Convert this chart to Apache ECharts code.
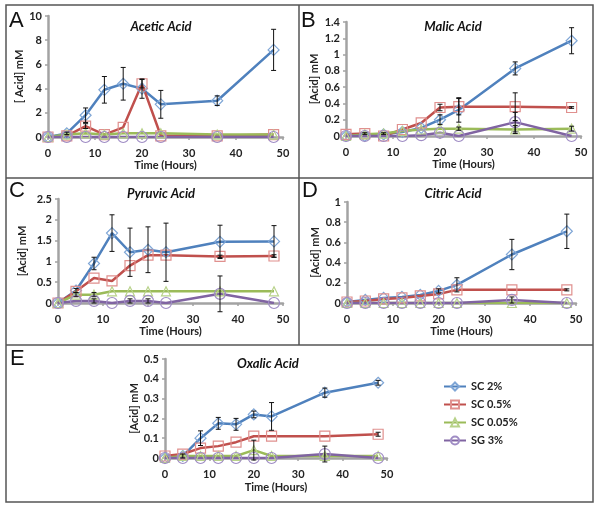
<!DOCTYPE html>
<html>
<head>
<meta charset="utf-8">
<script src="https://cdn.jsdelivr.net/npm/echarts@6/dist/echarts.min.js"></script>
<style>
  html, body { margin: 0; padding: 0; background: #fff; }
  #chart { width: 600px; height: 507px; }
</style>
</head>
<body>
<div id="chart"></div>
<script>
const hours = [0, 4, 8, 12, 16, 20, 24, 36, 48];
const seriesNames = ["SC 2%", "SC 0.5%", "SC 0.05%", "SG 3%"];

// A - acetic
const aceticSc2 = [0, 0.3, 1.8, 3.9, 4.4, 4.0, 2.7, 3.0, 7.2];
const aceticSc2Err = [0, 0.1, 0.6, 1.1, 1.35, 0.8, 1.15, 0.4, 1.7];
const aceticSc05 = [0, 0.1, 0.9, 0.2, 0.8, 4.4, 0.1, 0.1, 0.2];
const aceticSc05Err = [0, 0, 0.2, 0, 0, 0.35, 0, 0, 0];
const aceticSc005 = [0, 0.2, 0.3, 0.2, 0.3, 0.3, 0.3, 0.2, 0.2];
const aceticSc005Err = [0, 0, 0, 0, 0, 0, 0, 0, 0];
const aceticSg3 = [0, 0, 0, 0, 0, 0, 0, 0, 0];
const aceticSg3Err = [0, 0, 0, 0, 0, 0, 0, 0, 0];

// B - malic
const malicSc2 = [0, 0, 0.02, 0.05, 0.1, 0.2, 0.32, 0.83, 1.17];
const malicSc2Err = [0, 0, 0, 0, 0, 0.06, 0.15, 0.08, 0.16];
const malicSc05 = [0.02, 0.03, 0, 0.08, 0.16, 0.35, 0.36, 0.36, 0.35];
const malicSc05Err = [0, 0.01, 0, 0, 0, 0.04, 0.1, 0.17, 0.01];
const malicSc005 = [0, 0.02, 0.03, 0.06, 0.08, 0.09, 0.09, 0.08, 0.09];
const malicSc005Err = [0, 0, 0.01, 0, 0, 0, 0.02, 0.05, 0.03];
const malicSg3 = [0, 0, 0, 0, 0.01, 0.04, 0, 0.17, 0];
const malicSg3Err = [0, 0, 0, 0, 0, 0, 0, 0.12, 0];

// C - pyruvic
const pyruvicSc2 = [0, 0.3, 0.95, 1.68, 1.22, 1.28, 1.22, 1.47, 1.48];
const pyruvicSc2Err = [0, 0.05, 0.15, 0.44, 0.58, 0.55, 0.7, 0.4, 0.38];
const pyruvicSc05 = [0, 0.28, 0.6, 0.53, 0.9, 1.15, 1.15, 1.12, 1.13];
const pyruvicSc05Err = [0, 0, 0, 0, 0, 0, 0, 0.03, 0.03];
const pyruvicSc005 = [0, 0.2, 0.2, 0.28, 0.28, 0.28, 0.28, 0.28, 0.28];
const pyruvicSc005Err = [0, 0.05, 0.05, 0, 0, 0, 0, 0, 0];
const pyruvicSg3 = [0, 0.05, 0.05, 0, 0.05, 0.05, 0, 0.22, 0];
const pyruvicSg3Err = [0, 0, 0.05, 0, 0.05, 0.05, 0, 0.43, 0];

// D - citric
const citricSc2 = [0.01, 0.03, 0.05, 0.06, 0.08, 0.12, 0.18, 0.48, 0.71];
const citricSc2Err = [0, 0, 0, 0, 0, 0.02, 0.07, 0.15, 0.17];
const citricSc05 = [0.01, 0.02, 0.04, 0.05, 0.07, 0.09, 0.13, 0.13, 0.13];
const citricSc05Err = [0, 0, 0, 0, 0, 0, 0, 0, 0.01];
const citricSc005 = [0, 0, 0, 0, 0, 0, 0, 0, 0];
const citricSc005Err = [0, 0, 0, 0, 0, 0, 0, 0, 0];
const citricSg3 = [0, 0, 0, 0, 0, 0, 0, 0.03, 0];
const citricSg3Err = [0, 0, 0, 0, 0, 0, 0, 0.03, 0];

// E - oxalic
const oxalicSc2 = [0, 0.01, 0.1, 0.175, 0.17, 0.22, 0.21, 0.33, 0.38];
const oxalicSc2Err = [0, 0.01, 0.037, 0.03, 0.03, 0.017, 0.07, 0.023, 0.012];
const oxalicSc05 = [0.01, 0.02, 0.05, 0.06, 0.08, 0.11, 0.11, 0.11, 0.12];
const oxalicSc05Err = [0, 0, 0, 0, 0, 0, 0, 0, 0.01];
const oxalicSc005 = [0, 0.01, 0.01, 0.01, 0.01, 0.04, 0.01, 0.01, 0.01];
const oxalicSc005Err = [0, 0, 0, 0, 0, 0.05, 0, 0, 0];
const oxalicSg3 = [0, 0, 0, 0, 0, 0, 0, 0.02, 0];
const oxalicSg3Err = [0, 0, 0, 0, 0, 0, 0, 0.04, 0];

const yMaxes = [10, 1.4, 2.5, 1, 0.5];
const yIntervals = [2, 0.2, 0.5, 0.2, 0.1];

const panels = [
  { title: "Acetic Acid", yName: "[ Acid] mM", vals: [aceticSc2, aceticSc05, aceticSc005, aceticSg3], errs: [aceticSc2Err, aceticSc05Err, aceticSc005Err, aceticSg3Err] },
  { title: "Malic Acid", yName: "[Acid] mM", vals: [malicSc2, malicSc05, malicSc005, malicSg3], errs: [malicSc2Err, malicSc05Err, malicSc005Err, malicSg3Err] },
  { title: "Pyruvic Acid", yName: "[Acid] mM", vals: [pyruvicSc2, pyruvicSc05, pyruvicSc005, pyruvicSg3], errs: [pyruvicSc2Err, pyruvicSc05Err, pyruvicSc005Err, pyruvicSg3Err] },
  { title: "Citric Acid", yName: "[Acid] mM", vals: [citricSc2, citricSc05, citricSc005, citricSg3], errs: [citricSc2Err, citricSc05Err, citricSc005Err, citricSg3Err] },
  { title: "Oxalic Acid", yName: "[Acid] mM", vals: [oxalicSc2, oxalicSc05, oxalicSc005, oxalicSg3], errs: [oxalicSc2Err, oxalicSc05Err, oxalicSc005Err, oxalicSg3Err] },
];

// layout (px)
const grids = [
  { left: 48, top: 16, width: 235, height: 121 },
  { left: 346, top: 22, width: 235, height: 114 },
  { left: 58, top: 199, width: 225, height: 104 },
  { left: 347, top: 202, width: 229, height: 101 },
  { left: 165, top: 359, width: 222, height: 99 },
];
const titlePos = [[156, 15], [448, 15], [156, 182], [448, 182], [263, 352]];
const xNameGap = [23, 23, 23, 19, 24];
const yNameGap = [12, 26, 30, 26, 20];

const lineColors = ["#4f81bd", "#c0504d", "#9bbb59", "#8064a2"];
const markColors = ["#7fa6d6", "#e0908e", "#b8d28a", "#9f8cc4"];
const symbols = ["diamond", "rect", "triangle", "circle"];
const symbolSizes = [11, 10, 9, 11];

const font = "Lato, 'Open Sans', sans-serif";
const axisGray = "#a3a3a3";

const chart = echarts.init(document.getElementById("chart"));

let xAxis = [], yAxis = [], series = [], title = [];
panels.forEach((p, i) => {
  xAxis.push({
    gridIndex: i, type: "value", min: 0, max: 50, interval: 10,
    name: "Time (Hours)", nameLocation: "middle", nameGap: xNameGap[i],
    nameTextStyle: { fontFamily: font, fontWeight: "bold", fontSize: 11, color: "#222" },
    axisLine: { lineStyle: { color: axisGray, width: 2.5 } },
    axisTick: { show: true, length: 3, lineStyle: { color: axisGray, width: 1.5 } },
    axisLabel: { margin: 11, fontFamily: font, fontWeight: "bold", fontSize: 11, color: "#222" },
    splitLine: { show: false },
  });
  yAxis.push({
    gridIndex: i, type: "value", min: 0, max: yMaxes[i], interval: yIntervals[i],
    name: p.yName, nameLocation: "middle", nameGap: yNameGap[i], nameRotate: 90,
    nameTextStyle: { fontFamily: font, fontWeight: "bold", fontSize: 11, color: "#222" },
    axisLine: { show: true, lineStyle: { color: axisGray, width: 2.5 } },
    axisTick: { show: true, length: 3, lineStyle: { color: axisGray, width: 1.5 } },
    axisLabel: { margin: 6, fontFamily: font, fontWeight: "bold", fontSize: 11, color: "#222" },
    splitLine: { show: false },
  });
  title.push({
    text: p.title, left: titlePos[i][0], top: titlePos[i][1], textAlign: "center",
    textStyle: { fontFamily: font, fontStyle: "italic", fontWeight: "bold", fontSize: 13, color: "#111" },
  });
  p.vals.forEach((v, s) => {
    series.push({
      name: seriesNames[s], type: "line", xAxisIndex: i, yAxisIndex: i,
      data: hours.map((h, k) => [h, v[k]]),
      symbol: symbols[s], symbolSize: symbolSizes[s], showAllSymbol: true,
      lineStyle: { color: lineColors[s], width: 2.5 },
      itemStyle: { color: "rgba(255,255,255,0)", borderColor: markColors[s], borderWidth: 1.2 },
      z: 2, animation: false,
    });
  });
  p.vals.forEach((v, s) => {
    const ed = [];
    hours.forEach((h, k) => {
      const e = p.errs[s][k];
      if (e > 0) ed.push([h, v[k] - e, v[k] + e]);
    });
    if (!ed.length) return;
    series.push({
      type: "custom", xAxisIndex: i, yAxisIndex: i, z: 5, silent: true, animation: false,
      data: ed, encode: { x: 0, y: [1, 2] },
      renderItem(params, api) {
        const x = api.value(0);
        const lo = api.coord([x, api.value(1)]);
        const hi = api.coord([x, api.value(2)]);
        const c = 2.5;
        const st = { stroke: "#111", lineWidth: 1 };
        return {
          type: "group",
          children: [
            { type: "line", shape: { x1: lo[0], y1: lo[1], x2: hi[0], y2: hi[1] }, style: st },
            { type: "line", shape: { x1: hi[0] - c, y1: hi[1], x2: hi[0] + c, y2: hi[1] }, style: st },
            { type: "line", shape: { x1: lo[0] - c, y1: lo[1], x2: lo[0] + c, y2: lo[1] }, style: st },
          ],
        };
      },
    });
  });
});

const letterStyle = { fontFamily: "'Liberation Sans', Arial, sans-serif", fontSize: 22, fill: "#111" };
const frame = { stroke: "#555", lineWidth: 1.5 };

chart.setOption({
  animation: false,
  title,
  grid: grids.map(g => Object.assign({ containLabel: false }, g)),
  xAxis, yAxis, series,
  legend: {
    data: seriesNames, orient: "vertical", left: 438, top: 376,
    itemWidth: 22, itemHeight: 10, itemGap: 7,
    textStyle: { fontFamily: font, fontWeight: "bold", fontSize: 11, color: "#222" },
  },
  graphic: [
    { type: "rect", shape: { x: 6, y: 5, width: 587, height: 497 }, style: { fill: "none", stroke: frame.stroke, lineWidth: frame.lineWidth } },
    { type: "line", shape: { x1: 6, y1: 178, x2: 593, y2: 178 }, style: frame },
    { type: "line", shape: { x1: 6, y1: 345, x2: 593, y2: 345 }, style: frame },
    { type: "line", shape: { x1: 299, y1: 5, x2: 299, y2: 345 }, style: frame },
    { type: "text", left: 9, top: 10, style: Object.assign({ text: "A" }, letterStyle) },
    { type: "text", left: 301, top: 10, style: Object.assign({ text: "B" }, letterStyle) },
    { type: "text", left: 9, top: 180, style: Object.assign({ text: "C" }, letterStyle) },
    { type: "text", left: 302, top: 180, style: Object.assign({ text: "D" }, letterStyle) },
    { type: "text", left: 10, top: 348, style: Object.assign({ text: "E" }, letterStyle) },
  ],
});
</script>
</body>
</html>
